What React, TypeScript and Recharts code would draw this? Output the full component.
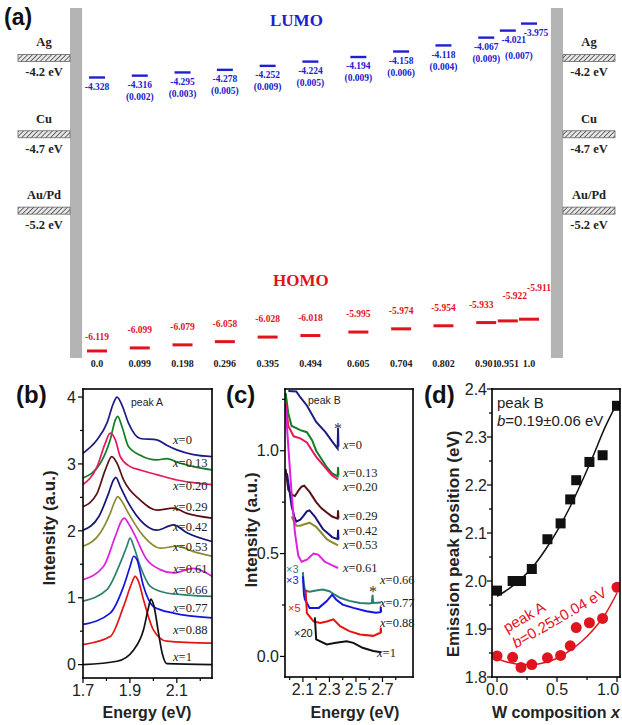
import React from 'react';
import { ComposedChart, LineChart, Line, XAxis, YAxis, ReferenceArea, ReferenceLine } from 'recharts';

const SANS = '"Liberation Sans", Arial, sans-serif';
const SERIF = '"Liberation Serif", "Times New Roman", serif';
const BLUE = '#2020d0';
const RED = '#e0141e';

// ---- (a) frontier orbital levels
const compositions = [0.0, 0.099, 0.198, 0.296, 0.395, 0.494, 0.605, 0.704, 0.802, 0.901, 0.951, 1.0];
const compLabels = ['0.0', '0.099', '0.198', '0.296', '0.395', '0.494', '0.605', '0.704', '0.802', '0.901', '0.951', '1.0'];
const lumo = [-4.328, -4.316, -4.295, -4.278, -4.252, -4.224, -4.194, -4.158, -4.118, -4.067, -4.021, -3.975];
const oscStrength = ['', '(0.002)', '(0.003)', '(0.005)', '(0.009)', '(0.005)', '(0.009)', '(0.006)', '(0.004)', '(0.009)', '(0.007)', ''];
const homo = [-6.119, -6.099, -6.079, -6.058, -6.028, -6.018, -5.995, -5.974, -5.954, -5.933, -5.922, -5.911];
const metals = ['Ag', 'Cu', 'Au/Pd'];
const workFunctions = [-4.2, -4.7, -5.2];

// ---- (b) peak A spectra, [energy, intensity]
const a0 = [[1.7, 3.16], [1.76, 3.36], [1.802, 3.61], [1.83, 3.91], [1.845, 4.0], [1.866, 3.88], [1.894, 3.61], [1.944, 3.38], [2.015, 3.36], [2.057, 3.28], [2.1, 3.21], [2.171, 3.14], [2.25, 3.11]];
const a13 = [[1.7, 2.79], [1.774, 3.01], [1.816, 3.36], [1.838, 3.66], [1.848, 3.71], [1.866, 3.56], [1.894, 3.26], [1.944, 3.13], [2.015, 3.06], [2.057, 3.08], [2.114, 3.01], [2.171, 2.96], [2.25, 2.91]];
const a20 = [[1.7, 2.69], [1.76, 2.96], [1.795, 3.31], [1.816, 3.46], [1.838, 3.36], [1.859, 3.11], [1.901, 2.96], [1.944, 2.91], [2.015, 2.84], [2.1, 2.76], [2.171, 2.72], [2.25, 2.69]];
const a29 = [[1.7, 2.36], [1.76, 2.56], [1.795, 2.91], [1.823, 3.11], [1.845, 3.01], [1.873, 2.76], [1.944, 2.46], [2.015, 2.31], [2.086, 2.34], [2.143, 2.26], [2.25, 2.19]];
const a42 = [[1.7, 2.01], [1.767, 2.21], [1.809, 2.56], [1.83, 2.76], [1.84, 2.8], [1.859, 2.66], [1.887, 2.46], [1.944, 2.16], [2.015, 2.01], [2.086, 2.09], [2.143, 1.97], [2.25, 1.84]];
const a53 = [[1.7, 1.77], [1.774, 1.97], [1.816, 2.26], [1.838, 2.46], [1.848, 2.51], [1.866, 2.44], [1.894, 2.26], [1.958, 1.92], [2.029, 1.74], [2.1, 1.77], [2.171, 1.69], [2.25, 1.62]];
const a61 = [[1.7, 1.27], [1.788, 1.47], [1.838, 1.92], [1.866, 2.16], [1.876, 2.19], [1.894, 2.11], [1.916, 1.97], [1.972, 1.57], [2.029, 1.42], [2.086, 1.37], [2.171, 1.44], [2.25, 1.32]];
const a66 = [[1.7, 0.95], [1.802, 1.12], [1.859, 1.52], [1.887, 1.77], [1.901, 1.89], [1.916, 1.77], [1.944, 1.47], [1.987, 1.17], [2.057, 1.07], [2.143, 1.04], [2.25, 1.02]];
const a77 = [[1.7, 0.6], [1.816, 0.77], [1.873, 1.17], [1.901, 1.47], [1.916, 1.62], [1.93, 1.57], [1.958, 1.17], [2.0, 0.87], [2.086, 0.77], [2.25, 0.7]];
const a88 = [[1.7, 0.3], [1.816, 0.42], [1.873, 0.87], [1.908, 1.22], [1.922, 1.32], [1.937, 1.24], [1.958, 0.97], [2.0, 0.52], [2.057, 0.35], [2.25, 0.32]];
const a100 = [[1.7, 0.0], [1.845, 0.05], [1.916, 0.22], [1.958, 0.52], [1.979, 0.85], [1.989, 0.98], [2.003, 0.87], [2.022, 0.47], [2.039, 0.15], [2.057, 0.015], [2.25, 0.0]];
const peakASpectra = [a0, a13, a20, a29, a42, a53, a61, a66, a77, a88, a100];

// ---- (c) peak B spectra
const b0 = [[1.99, 1.29], [2.05, 1.288], [2.08, 1.26], [2.13, 1.22], [2.2, 1.14], [2.27, 1.09], [2.32, 1.045], [2.35, 1.02], [2.362, 1.01], [2.365, 1.11], [2.368, 1.02]];
const b13 = [[1.97, 1.28], [1.99, 1.18], [2.015, 1.12], [2.05, 1.11], [2.08, 1.1], [2.13, 1.09], [2.17, 1.05], [2.2, 1.0], [2.24, 0.96], [2.28, 0.92], [2.32, 0.89], [2.362, 0.875], [2.365, 0.92], [2.368, 0.88]];
const b20 = [[1.97, 1.23], [1.99, 1.12], [2.03, 1.07], [2.08, 1.06], [2.13, 1.04], [2.17, 1.0], [2.2, 0.97], [2.24, 0.94], [2.28, 0.91], [2.32, 0.88], [2.365, 0.86]];
const b29 = [[1.97, 0.91], [1.99, 0.81], [2.02, 0.785], [2.04, 0.78], [2.07, 0.81], [2.09, 0.825], [2.11, 0.83], [2.15, 0.8], [2.2, 0.75], [2.24, 0.72], [2.28, 0.7], [2.32, 0.68], [2.362, 0.67], [2.365, 0.71], [2.368, 0.67]];
const b42 = [[1.98, 0.89], [2.0, 0.8], [2.015, 0.73], [2.035, 0.68], [2.05, 0.655], [2.08, 0.665], [2.1, 0.68], [2.13, 0.705], [2.15, 0.71], [2.19, 0.68], [2.22, 0.65], [2.25, 0.62], [2.32, 0.58], [2.362, 0.57], [2.365, 0.615], [2.368, 0.57]];
const b53 = [[2.015, 0.68], [2.03, 0.66], [2.05, 0.635], [2.08, 0.635], [2.1, 0.64], [2.15, 0.65], [2.2, 0.63], [2.24, 0.6], [2.28, 0.57], [2.32, 0.555], [2.365, 0.54]];
const b61 = [[1.97, 1.21], [1.99, 1.02], [2.015, 0.79], [2.04, 0.6], [2.065, 0.49], [2.09, 0.46], [2.13, 0.47], [2.18, 0.5], [2.215, 0.495], [2.265, 0.46], [2.33, 0.44], [2.365, 0.43]];
const b66 = [[2.1, 0.41], [2.105, 0.36], [2.115, 0.32], [2.15, 0.315], [2.2, 0.32], [2.25, 0.325], [2.3, 0.317], [2.34, 0.3], [2.38, 0.285], [2.45, 0.27], [2.53, 0.26], [2.6, 0.257], [2.62, 0.26], [2.625, 0.3], [2.63, 0.26], [2.69, 0.262]];
const b77 = [[2.1, 0.39], [2.108, 0.3], [2.115, 0.277], [2.15, 0.236], [2.22, 0.236], [2.28, 0.269], [2.32, 0.3], [2.35, 0.277], [2.4, 0.252], [2.48, 0.236], [2.58, 0.22], [2.65, 0.212], [2.685, 0.215], [2.687, 0.24], [2.69, 0.215]];
const b88 = [[2.12, 0.325], [2.13, 0.21], [2.18, 0.17], [2.23, 0.163], [2.28, 0.17], [2.33, 0.18], [2.38, 0.147], [2.45, 0.123], [2.53, 0.107], [2.63, 0.1], [2.685, 0.115], [2.687, 0.14], [2.69, 0.115]];
const b100 = [[2.19, 0.19], [2.2, 0.083], [2.28, 0.058], [2.35, 0.066], [2.43, 0.074], [2.48, 0.066], [2.55, 0.042], [2.63, 0.026], [2.69, 0.02]];
const peakBSpectra = [b0, b13, b20, b29, b42, b53, b61, b66, b77, b88, b100];

const wLabels = ['0', '0.13', '0.20', '0.29', '0.42', '0.53', '0.61', '0.66', '0.77', '0.88', '1'];
const curveColors = ['#1c1c86', '#0f7d22', '#e8185e', '#5c1016', '#15157a', '#8c8c30', '#e020e0', '#2e7f70', '#1414e0', '#e41414', '#111111'];

// ---- (d) emission peak vs composition
const wComposition = [0, 0.13, 0.2, 0.29, 0.42, 0.53, 0.61, 0.66, 0.77, 0.88, 1.0];
const peakBPos = [1.98, 2.0, 2.0, 2.025, 2.087, 2.12, 2.17, 2.21, 2.248, 2.262, 2.365];
const peakAPos = [1.844, 1.841, 1.82, 1.826, 1.84, 1.845, 1.865, 1.903, 1.913, 1.922, 1.987];
const peakBFit = [[0, 1.968], [0.1, 1.984], [0.2, 2.004], [0.3, 2.03], [0.4, 2.064], [0.5, 2.104], [0.6, 2.15], [0.7, 2.203], [0.8, 2.26], [0.9, 2.32], [1.0, 2.37]];
const peakAFit = [[0, 1.838], [0.1, 1.83], [0.2, 1.826], [0.3, 1.826], [0.4, 1.83], [0.5, 1.839], [0.6, 1.854], [0.7, 1.873], [0.8, 1.898], [0.9, 1.93], [1.0, 1.975]];

// ticks
const bXTicks = [1.7, 1.8, 1.9, 2.0, 2.1, 2.2];
const bYTicks = [0, 0.5, 1, 1.5, 2, 2.5, 3, 3.5, 4];
const cXTicks = [2.0, 2.1, 2.2, 2.3, 2.4, 2.5, 2.6, 2.7, 2.8];
const cYTicks = [0, 0.25, 0.5, 0.75, 1.0, 1.25];
const dXTicks = [0, 0.25, 0.5, 0.75, 1.0];
const dYTicks = [1.8, 1.85, 1.9, 1.95, 2.0, 2.05, 2.1, 2.15, 2.2, 2.25, 2.3, 2.35, 2.4];

const pts = (arr: number[][]) => arr.map(([x, y]) => ({ x, y }));
const isMajor = (majors: number[], v: number) => majors.some((m) => Math.abs(m - v) < 1e-6);

// ticks are drawn as thin filled rects so they stay crisp
const bottomTick = (majors: number[], fmt: (v: number) => string, maxX = 9999) => (p: any) => {
  const v = p.payload.value;
  const major = isMajor(majors, v);
  return (
    <g>
      <rect x={p.x - 0.6} y={p.y} width={1.2} height={major ? 5 : 3} fill="#000" />
      {major && (
        <text x={Math.min(p.x, maxX)} y={p.y + 6} dy="0.78em" textAnchor="middle" fontFamily={SANS} fontSize={16} fill="#222">
          {fmt(v)}
        </text>
      )}
    </g>
  );
};

const leftTick = (majors: number[], fmt: (v: number) => string, gap = 2) => (p: any) => {
  const v = p.payload.value;
  const major = isMajor(majors, v);
  const len = major ? 5 : 3;
  return (
    <g>
      <rect x={p.x - len} y={p.y - 0.6} width={len} height={1.2} fill="#000" />
      {major && (
        <text x={p.x - 5 - gap} y={p.y} dy="0.36em" textAnchor="end" fontFamily={SANS} fontSize={16} fill="#222">
          {fmt(v)}
        </text>
      )}
    </g>
  );
};

// ---------- panel (a)
const A_XMIN = -0.0625;
const A_XMAX = 1.0787;
const A_BAR = 0.028;
const lumoPts = compositions.map((x, i) => ({ x, y: lumo[i] }));
const homoPts = compositions.map((x, i) => ({ x, y: homo[i] }));

const renderLumo = (p: any) => {
  const { cx, cy, index } = p;
  let vdx = 0;
  let odx = 0;
  let ody = 0;
  if (index === 10) { vdx = 6; odx = 11; ody = 4; }
  if (index === 11) { vdx = 7; }
  return (
    <g key={`l${index}`}>
      <line x1={cx - 8} x2={cx + 8} y1={cy} y2={cy} stroke={BLUE} strokeWidth={2.4} />
      <text x={cx + vdx} y={cy + 9} dy="0.35em" textAnchor="middle" fontFamily={SERIF} fontWeight="bold" fontSize={9.5} fill={BLUE}>
        {lumo[index].toFixed(3)}
      </text>
      {oscStrength[index] && (
        <text x={cx + odx} y={cy + 21 + ody} dy="0.35em" textAnchor="middle" fontFamily={SERIF} fontWeight="bold" fontSize={9.5} fill={BLUE}>
          {oscStrength[index]}
        </text>
      )}
    </g>
  );
};

const renderHomo = (p: any) => {
  const { cx, cy, index } = p;
  let dx = 0;
  let dy = -18;
  if (index === 0) dy = -14;
  if (index === 9) dx = -5;
  if (index === 10) { dx = 7; dy = -25; }
  if (index === 11) { dx = 10; dy = -32; }
  return (
    <g key={`h${index}`}>
      <line x1={cx - 10} x2={cx + 10} y1={cy} y2={cy} stroke={RED} strokeWidth={3} />
      <text x={cx + dx} y={cy + dy} dy="0.35em" textAnchor="middle" fontFamily={SERIF} fontWeight="bold" fontSize={9.5} fill={RED}>
        {homo[index].toFixed(3)}
      </text>
    </g>
  );
};

const metalLabel = (name: string, wf: number, k: number) => (props: any) => {
  const vb = props.viewBox || {};
  const x = vb.x ?? 70;
  const y = vb.y ?? 0;
  const w = vb.width ?? 0;
  const centers = [x - 26, x + w + 26];
  const pid = `hatch${k}`;
  return (
    <g>
      <defs>
        <pattern id={pid} width={3.4} height={3.4} patternUnits="userSpaceOnUse" patternTransform="rotate(45)">
          <rect width={3.4} height={3.4} fill="#e6e6e6" />
          <line x1={0} y1={0} x2={0} y2={3.4} stroke="#4a4a4a" strokeWidth={1.6} />
        </pattern>
      </defs>
      {centers.map((c, j) => (
        <g key={j}>
          <text x={c} y={y - 16} dy="0.35em" textAnchor="middle" fontFamily={SERIF} fontWeight="bold" fontSize={12.5} fill="#222">
            {name}
          </text>
          <rect x={c - 26} y={y - 3.5} width={52} height={7} fill={`url(#${pid})`} stroke="#666" strokeWidth={0.8} />
          <text x={c} y={y + 14} dy="0.35em" textAnchor="middle" fontFamily={SERIF} fontWeight="bold" fontSize={12.5} fill="#222">
            {`${wf.toFixed(1)} eV`}
          </text>
        </g>
      ))}
    </g>
  );
};

const aTick = (p: any) => {
  const i = compositions.findIndex((c) => Math.abs(c - p.payload.value) < 1e-6);
  return (
    <text x={p.x} y={p.y + 1} dy="0.75em" textAnchor="middle" fontFamily={SERIF} fontWeight="bold" fontSize={10} fill="#222">
      {compLabels[i]}
    </text>
  );
};

const PanelA = () => (
  <ComposedChart width={622} height={378} margin={{ top: 8, right: 59, left: 70, bottom: 0 }}>
    <XAxis type="number" dataKey="x" domain={[A_XMIN, A_XMAX]} allowDataOverflow ticks={compositions} interval={0}
      tick={aTick} tickLine={false} axisLine={false} tickSize={0} tickMargin={0} height={20} />
    <YAxis hide type="number" dataKey="y" domain={[-6.165, -3.873]} allowDataOverflow />
    <ReferenceArea x1={A_XMIN} x2={A_XMIN + A_BAR} y1={-6.165} y2={-3.873} fill="#b4b4b4" fillOpacity={1} stroke="none" />
    <ReferenceArea x1={A_XMAX - A_BAR} x2={A_XMAX} y1={-6.165} y2={-3.873} fill="#b4b4b4" fillOpacity={1} stroke="none" />
    {metals.map((m, k) => (
      <ReferenceLine key={m} y={workFunctions[k]} stroke="none" label={metalLabel(m, workFunctions[k], k)} />
    ))}
    <Line data={lumoPts} dataKey="y" stroke="none" dot={renderLumo} activeDot={false} isAnimationActive={false} />
    <Line data={homoPts} dataKey="y" stroke="none" dot={renderHomo} activeDot={false} isAnimationActive={false} />
  </ComposedChart>
);

// ---------- panel (b)
const PanelB = () => (
  <LineChart width={215} height={365} margin={{ top: 29, right: 3, left: 0, bottom: 0 }}>
    <XAxis type="number" dataKey="x" domain={[1.7, 2.25]} allowDataOverflow ticks={bXTicks} interval={0}
      tick={bottomTick([1.7, 1.9, 2.1], (v) => v.toFixed(1))} tickLine={false} axisLine={false} tickSize={0} tickMargin={0} height={47} />
    <YAxis type="number" dataKey="y" domain={[-0.2, 4.12]} allowDataOverflow ticks={bYTicks} interval={0}
      tick={leftTick([0, 1, 2, 3, 4], (v) => String(v))} tickLine={false} axisLine={false} tickSize={0} tickMargin={0} width={83} />
    {peakASpectra.map((s, i) => (
      <Line key={i} data={pts(s)} dataKey="y" type="monotone" stroke={curveColors[i]} strokeWidth={1.7} dot={false} activeDot={false} isAnimationActive={false} />
    ))}
  </LineChart>
);

// ---------- panel (c)
const PanelC = () => (
  <LineChart width={200} height={365} margin={{ top: 29, right: 2, left: 0, bottom: 0 }}>
    <XAxis type="number" dataKey="x" domain={[1.965, 2.93]} allowDataOverflow ticks={cXTicks} interval={0}
      tick={bottomTick([2.1, 2.3, 2.5, 2.7], (v) => v.toFixed(1))} tickLine={false} axisLine={false} tickSize={0} tickMargin={0} height={48} />
    <YAxis type="number" dataKey="y" domain={[-0.1, 1.3]} allowDataOverflow ticks={cYTicks} interval={0}
      tick={leftTick([0, 0.5, 1.0], (v) => v.toFixed(1), 1)} tickLine={false} axisLine={false} tickSize={0} tickMargin={0} width={70} />
    {peakBSpectra.map((s, i) => (
      <Line key={i} data={pts(s)} dataKey="y" type="linear" stroke={curveColors[i]} strokeWidth={2} dot={false} activeDot={false} isAnimationActive={false} />
    ))}
  </LineChart>
);

// ---------- panel (d)
const squareDot = (p: any) => <rect key={`s${p.index}`} x={p.cx - 5} y={p.cy - 5} width={10} height={10} fill="#111" />;
const circleDot = (p: any) => <circle key={`c${p.index}`} cx={p.cx} cy={p.cy} r={5.5} fill={RED} />;

const PanelD = () => (
  <ComposedChart width={207} height={365} margin={{ top: 29, right: 2, left: 0, bottom: 0 }}>
    <XAxis type="number" dataKey="x" domain={[-0.042, 1.025]} allowDataOverflow ticks={dXTicks} interval={0}
      tick={bottomTick([0, 0.5, 1.0], (v) => v.toFixed(1), 193)} tickLine={false} axisLine={false} tickSize={0} tickMargin={0} height={48} />
    <YAxis type="number" dataKey="y" domain={[1.8, 2.4]} allowDataOverflow ticks={dYTicks} interval={0}
      tick={leftTick([1.8, 1.9, 2.0, 2.1, 2.2, 2.3, 2.4], (v) => v.toFixed(1), 0)} tickLine={false} axisLine={false} tickSize={0} tickMargin={0} width={77} />
    <Line data={pts(peakBFit)} dataKey="y" type="monotone" stroke="#111" strokeWidth={1.5} dot={false} activeDot={false} isAnimationActive={false} />
    <Line data={pts(peakAFit)} dataKey="y" type="monotone" stroke={RED} strokeWidth={1.5} dot={false} activeDot={false} isAnimationActive={false} />
    <Line data={wComposition.map((x, i) => ({ x, y: peakBPos[i] }))} dataKey="y" stroke="none" dot={squareDot} activeDot={false} isAnimationActive={false} />
    <Line data={wComposition.map((x, i) => ({ x, y: peakAPos[i] }))} dataKey="y" stroke="none" dot={circleDot} activeDot={false} isAnimationActive={false} />
  </ComposedChart>
);

// ---------- text layer and panel frames
const XLabel = ({ x, y, v, size = 12.5, fill = '#222' }: { x: number; y: number; v: string; size?: number; fill?: string }) => (
  <text x={x} y={y} dy="0.35em" fontFamily={SERIF} fontSize={size} fill={fill}>
    <tspan fontStyle="italic">x</tspan>={v}
  </text>
);

const bLabelY = [440, 463, 486, 507, 527, 547, 569, 590, 608, 630, 657];
const cLabelPos = [[343, 445], [343, 473], [343, 487], [343, 516], [343, 531], [343, 545], [343, 568], [380, 580], [380, 603], [380, 623], [377, 653]];
// plot boxes of panels b, c, d (same margins as the charts above)
const frames = [[83, 389, 129, 289], [285, 389, 128, 288], [492, 389, 128, 288]];
const T = 1.6;

const Overlay = () => (
  <svg width={622} height={725} style={{ position: 'absolute', left: 0, top: 0, pointerEvents: 'none' }}>
    {frames.map(([x, y, w, h], i) => (
      <g key={i} fill="#000">
        <rect x={x - T / 2} y={y - T / 2} width={w + T} height={T} />
        <rect x={x - T / 2} y={y + h - T / 2} width={w + T} height={T} />
        <rect x={x - T / 2} y={y - T / 2} width={T} height={h + T} />
        <rect x={x + w - T / 2} y={y - T / 2} width={T} height={h + T} />
      </g>
    ))}
    <text x={4} y={25} fontFamily={SANS} fontWeight="bold" fontSize={23} fill="#111">(a)</text>
    <text x={270} y={26} fontFamily={SERIF} fontWeight="bold" fontSize={17} fill={BLUE}>LUMO</text>
    <text x={273} y={286} fontFamily={SERIF} fontWeight="bold" fontSize={17} fill={RED}>HOMO</text>

    <text x={16} y={403} fontFamily={SANS} fontWeight="bold" fontSize={24} fill="#111">(b)</text>
    <text x={226} y={403} fontFamily={SANS} fontWeight="bold" fontSize={24} fill="#111">(c)</text>
    <text x={424} y={403} fontFamily={SANS} fontWeight="bold" fontSize={24} fill="#111">(d)</text>

    <text x={131} y={402} dy="0.35em" fontFamily={SANS} fontSize={10.5} fill="#222">peak A</text>
    <text x={308} y={400} dy="0.35em" fontFamily={SANS} fontSize={10.5} fill="#222">peak B</text>

    <text transform="translate(49,528) rotate(-90)" textAnchor="middle" dy="0.35em" fontFamily={SANS} fontWeight="bold" fontSize={17} fill="#222">Intensity (a.u.)</text>
    <text x={147} y={712} dy="0.35em" textAnchor="middle" fontFamily={SANS} fontWeight="bold" fontSize={16} fill="#222">Energy (eV)</text>
    <text transform="translate(251,530) rotate(-90)" textAnchor="middle" dy="0.35em" fontFamily={SANS} fontWeight="bold" fontSize={17} fill="#222">Intensity (a.u.)</text>
    <text x={355} y={712} dy="0.35em" textAnchor="middle" fontFamily={SANS} fontWeight="bold" fontSize={16} fill="#222">Energy (eV)</text>
    <text transform="translate(453,544) rotate(-90)" textAnchor="middle" dy="0.35em" fontFamily={SANS} fontWeight="bold" fontSize={17} fill="#222">Emission peak position (eV)</text>
    <text x={556} y={712} dy="0.35em" textAnchor="middle" fontFamily={SANS} fontWeight="bold" fontSize={16} fill="#222">
      W composition <tspan fontStyle="italic">x</tspan>
    </text>

    {wLabels.map((w, i) => <XLabel key={`b${i}`} x={173} y={bLabelY[i]} v={w} />)}
    {wLabels.map((w, i) => <XLabel key={`c${i}`} x={cLabelPos[i][0]} y={cLabelPos[i][1]} v={w} />)}

    <text x={286} y={569} dy="0.35em" fontFamily={SANS} fontSize={11} fill={curveColors[7]}>×3</text>
    <text x={286} y={580} dy="0.35em" fontFamily={SANS} fontSize={11} fill={curveColors[8]}>×3</text>
    <text x={288} y={608} dy="0.35em" fontFamily={SANS} fontSize={11} fill={curveColors[9]}>×5</text>
    <text x={294} y={633} dy="0.35em" fontFamily={SANS} fontSize={11} fill="#111">×20</text>
    <text x={338} y={434} textAnchor="middle" fontFamily={SERIF} fontSize={16} fill="#333">*</text>
    <text x={373} y={597} textAnchor="middle" fontFamily={SERIF} fontSize={16} fill="#333">*</text>

    <text x={497} y={403} dy="0.35em" fontFamily={SANS} fontSize={15} fill="#222">peak B</text>
    <text x={497} y={421} dy="0.35em" fontFamily={SANS} fontSize={15} fill="#222">
      <tspan fontStyle="italic">b</tspan>=0.19±0.06 eV
    </text>
    <g transform="translate(507,633) rotate(-30)">
      <text x={0} y={0} fontFamily={SANS} fontSize={15} fill={RED}>peak A</text>
      <text x={0} y={18} fontFamily={SANS} fontSize={15} fill={RED}>
        <tspan fontStyle="italic">b</tspan>=0.25±0.04 eV
      </text>
    </g>
  </svg>
);

export default function App() {
  return (
    <div style={{ position: 'absolute', left: 0, top: 0, width: 622, height: 725, background: '#fff', overflow: 'hidden' }}>
      <div style={{ position: 'absolute', left: 0, top: 0 }}><PanelA /></div>
      <div style={{ position: 'absolute', left: 0, top: 360 }}><PanelB /></div>
      <div style={{ position: 'absolute', left: 215, top: 360 }}><PanelC /></div>
      <div style={{ position: 'absolute', left: 415, top: 360 }}><PanelD /></div>
      <Overlay />
    </div>
  );
}
